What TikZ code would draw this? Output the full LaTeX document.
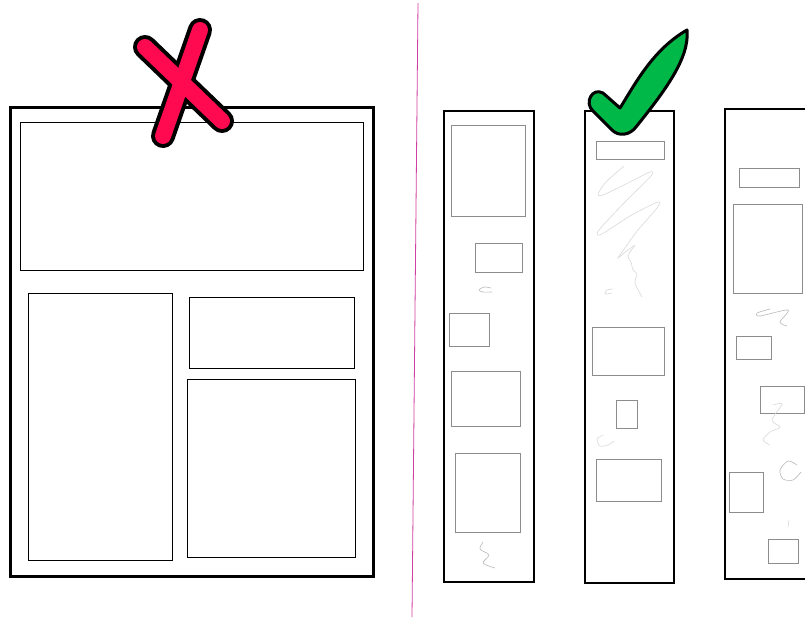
\documentclass[tikz,border=0pt]{standalone}
\begin{document}
\begin{tikzpicture}[x=1pt,y=-1pt,
  frame/.style={draw=black,line width=3pt},
  col/.style={draw=black,line width=2.5pt},
  panel/.style={draw=black,line width=1pt},
  gbox/.style={draw=gray!90,line width=1pt},
  scrib/.style={draw=gray!55,line width=0.6pt},
  lscrib/.style={draw=gray!30,line width=0.6pt}]
\definecolor{xred}{HTML}{FF0A50}
\definecolor{okgreen}{HTML}{00B848}
\definecolor{divider}{HTML}{D040A0}
\useasboundingbox (0,0) rectangle (805,619);
\fill[white] (0,0) rectangle (805,619);
% left page
\draw[frame] (10,107) rectangle (373,576);
\draw[panel] (20,122) rectangle (363,270);
\draw[panel] (28,293) rectangle (172,560);
\draw[panel] (189,297) rectangle (354,368);
\draw[panel] (187,379) rectangle (355,557);
% X mark
\draw[black,line width=24pt,line cap=round] (145,47) -- (222,121);
\draw[black,line width=24pt,line cap=round] (200,30) -- (163,136);
\draw[xred,line width=16pt,line cap=round] (145,47) -- (222,121);
\draw[xred,line width=16pt,line cap=round] (200,30) -- (163,136);
% divider
\draw[divider,line width=0.8pt] (418,3) -- (412,617);
% column 1
\draw[col] (444,111) rectangle (534,582);
\draw[gbox] (451,125) rectangle (525,216);
\draw[gbox] (475,243) rectangle (522,272);
\draw[gbox] (449,313) rectangle (489,346);
\draw[gbox] (451,371) rectangle (520,426);
\draw[gbox] (455,453) rectangle (520,532);
\draw[scrib] plot[smooth] coordinates {(491,288) (484,287) (479,290) (483,292) (492,292)};
\draw[scrib] plot[smooth] coordinates {(483,542) (480,549) (489,555) (483,563) (495,568)};
% column 2
\draw[col] (585,111) rectangle (674,583);
\draw[gbox] (596,141) rectangle (664,159);
\draw[lscrib] plot[smooth] coordinates {(624,166) (606,182) (598,194) (603,195) (628,183) (650,172) (651,176) (628,199) (606,222) (597,233) (602,234) (630,216) (658,202) (657,208) (638,230) (622,252) (618,258) (624,253) (635,245)};
\draw[lscrib] plot[smooth] coordinates {(635,245) (628,256) (631,262) (633,270) (637,274) (635,283) (642,297)};
\draw[lscrib] plot[smooth] coordinates {(613,289) (607,290) (605,294) (612,293)};
\draw[gbox] (592,327) rectangle (664,375);
\draw[gbox] (616,400) rectangle (637,428);
\draw[lscrib] plot[smooth] coordinates {(603,435) (597,439) (600,446) (608,445) (614,441)};
\draw[gbox] (596,459) rectangle (661,501);
% check mark
\filldraw[fill=okgreen,draw=black,line width=3pt,line join=round]
  (687,30) .. controls (690,58) and (664,92) .. (636,127)
  .. controls (630,135) and (619,137) .. (612,130) -- (593,111)
  .. controls (584,103) and (592,87) .. (603,93) -- (620,108)
  .. controls (634,86) and (652,50) .. (687,30) -- cycle;
% column 3
\draw[col] (808,109) -- (725,109) -- (725,579) -- (808,579);
\draw[gbox] (739,168) rectangle (799,187);
\draw[gbox] (733,204) rectangle (802,293);
\draw[scrib] plot[smooth] coordinates {(770,309) (757,313) (760,316) (788,310) (780,322) (787,326)};
\draw[gbox] (736,336) rectangle (771,359);
\draw[gbox] (760,386) rectangle (804,413);
\draw[lscrib] plot[smooth] coordinates {(773,405) (782,404) (772,420) (780,427) (770,432) (763,440) (770,445)};
\draw[scrib] plot[smooth] coordinates {(797,465) (788,461) (780,470) (783,479) (793,480) (801,472)};
\draw[gbox] (729,472) rectangle (763,512);
\draw[lscrib] (789,520) -- (788,527);
\draw[gbox] (768,539) rectangle (798,563);
\end{tikzpicture}
\end{document}
